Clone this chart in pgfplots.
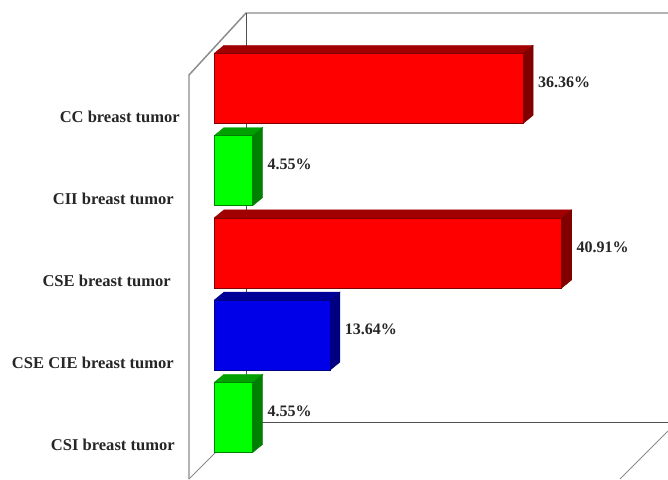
\documentclass[border=0pt]{standalone}
\usepackage{fontspec}
\setmainfont{Liberation Serif}
\usepackage{pgfplots}
\pgfplotsset{compat=1.18}
\definecolor{redface}{HTML}{FF0000}
\definecolor{redtop}{HTML}{A00000}
\definecolor{redside}{HTML}{800000}
\definecolor{greenface}{HTML}{00FF00}
\definecolor{greentop}{HTML}{00A000}
\definecolor{greenside}{HTML}{008000}
\definecolor{blueface}{HTML}{0000E8}
\definecolor{bluetop}{HTML}{000098}
\definecolor{blueside}{HTML}{000080}
\definecolor{wallgray}{HTML}{8C8C8C}
\definecolor{walldark}{HTML}{505050}
\begin{document}
\begin{tikzpicture}[x=0.75pt,y=0.75pt]
\fill[white] (0,0) rectangle (668,479);
% Open box behind the bars, in picture units
\begin{axis}[
  at={(0,0)}, anchor=south west, scale only axis,
  width=501pt, height=359.25pt,
  xmin=0, xmax=668, ymin=0, ymax=479, y dir=reverse,
  hide axis, clip=true]
\addplot[wallgray, line width=1.1pt] coordinates {(189,479) (189,75) (246,13) (668,13)};
\addplot[walldark, line width=0.7pt] coordinates {(246,13) (246,422) (668,422)};
\addplot[wallgray, line width=0.7pt] coordinates {(189,479) (246,422)};
\addplot[wallgray, line width=0.7pt] coordinates {(620,479) (668,431)};
\end{axis}
% Bars: value on x, category position on y
\begin{axis}[
  at={(0,0)}, anchor=south west, scale only axis,
  width=501pt, height=359.25pt,
  xmin=-25.18, xmax=53.41, ymin=-0.7477, ymax=5.076,
  hide axis, clip=false,
  xbar, bar width=52.5pt, bar shift=0pt,
  nodes near coords={\pgfmathprintnumber[fixed,fixed zerofill,precision=2,assume math mode=true]{\pgfplotspointmeta}\%},
  every node near coord/.append style={font=\bfseries\fontsize{12pt}{14pt}\selectfont,
    text=black!85, anchor=west, xshift=11pt, yshift=4.5pt, inner sep=0pt},
  point meta=x]
% Upper and side faces of each bar
\addplot[nodes near coords=\relax, forget plot, fill=redtop, draw=redtop, line width=0.3pt, sharp plot]
  coordinates {(0,4.4255) (1.18,4.5255) (37.54,4.5255) (36.36,4.4255) (0,4.4255)};
\addplot[nodes near coords=\relax, forget plot, fill=redside, draw=redside, line width=0.3pt, sharp plot]
  coordinates {(36.36,3.5745) (37.54,3.6745) (37.54,4.5255) (36.36,4.4255) (36.36,3.5745)};
\addplot[nodes near coords=\relax, forget plot, fill=greentop, draw=greentop, line width=0.3pt, sharp plot]
  coordinates {(0,3.4255) (1.18,3.5255) (5.73,3.5255) (4.55,3.4255) (0,3.4255)};
\addplot[nodes near coords=\relax, forget plot, fill=greenside, draw=greenside, line width=0.3pt, sharp plot]
  coordinates {(4.55,2.5745) (5.73,2.6745) (5.73,3.5255) (4.55,3.4255) (4.55,2.5745)};
\addplot[nodes near coords=\relax, forget plot, fill=redtop, draw=redtop, line width=0.3pt, sharp plot]
  coordinates {(0,2.4255) (1.18,2.5255) (42.09,2.5255) (40.91,2.4255) (0,2.4255)};
\addplot[nodes near coords=\relax, forget plot, fill=redside, draw=redside, line width=0.3pt, sharp plot]
  coordinates {(40.91,1.5745) (42.09,1.6745) (42.09,2.5255) (40.91,2.4255) (40.91,1.5745)};
\addplot[nodes near coords=\relax, forget plot, fill=bluetop, draw=bluetop, line width=0.3pt, sharp plot]
  coordinates {(0,1.4255) (1.18,1.5255) (14.82,1.5255) (13.64,1.4255) (0,1.4255)};
\addplot[nodes near coords=\relax, forget plot, fill=blueside, draw=blueside, line width=0.3pt, sharp plot]
  coordinates {(13.64,0.5745) (14.82,0.6745) (14.82,1.5255) (13.64,1.4255) (13.64,0.5745)};
\addplot[nodes near coords=\relax, forget plot, fill=greentop, draw=greentop, line width=0.3pt, sharp plot]
  coordinates {(0,0.4255) (1.18,0.5255) (5.73,0.5255) (4.55,0.4255) (0,0.4255)};
\addplot[nodes near coords=\relax, forget plot, fill=greenside, draw=greenside, line width=0.3pt, sharp plot]
  coordinates {(4.55,-0.4255) (5.73,-0.3255) (5.73,0.5255) (4.55,0.4255) (4.55,-0.4255)};
% Front faces with their value labels
\addplot[fill=redface, draw=redside, line width=0.4pt] coordinates {(36.36,4) (40.91,2)};
\addplot[fill=greenface, draw=greenside, line width=0.4pt] coordinates {(4.55,3) (4.55,0)};
\addplot[fill=blueface, draw=blueside, line width=0.4pt] coordinates {(13.64,1)};
% Category names
\begin{scope}[every node/.style={font=\bfseries\fontsize{12.4pt}{14pt}\selectfont, text=black!85, anchor=east, inner sep=0pt}]
\node at (axis cs:-4,3.66) {CC breast tumor};
\node at (axis cs:-4.7,2.66) {CII breast tumor};
\node at (axis cs:-5.05,1.66) {CSE breast tumor};
\node at (axis cs:-4.7,0.66) {CSE CIE breast tumor};
\node at (axis cs:-4.6,-0.33) {CSI breast tumor};
\end{scope}
\end{axis}
\end{tikzpicture}
\end{document}
